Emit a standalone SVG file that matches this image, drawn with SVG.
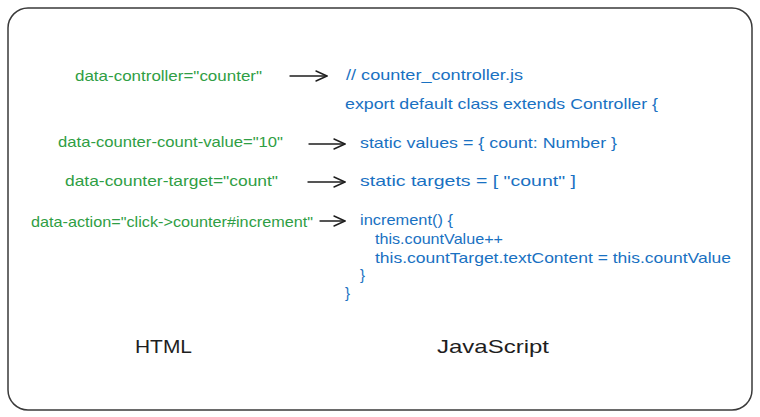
<svg xmlns="http://www.w3.org/2000/svg" width="760" height="417" viewBox="0 0 760 417">
<style>
.g{font-family:"Liberation Sans","DejaVu Sans",sans-serif;font-size:15px;fill:#2f9e44}
.b{font-family:"Liberation Sans","DejaVu Sans",sans-serif;font-size:15px;fill:#1971c2}
.k{font-family:"Liberation Sans","DejaVu Sans",sans-serif;font-size:19px;fill:#1e1e1e}
.c{stroke:#1e1e1e;stroke-width:1.4;fill:none;stroke-linecap:round}
</style>
<defs>
<marker id="ah" markerWidth="14" markerHeight="14" refX="12" refY="7" orient="auto" markerUnits="userSpaceOnUse">
<path d="M1,2 L12,7 L1,12" fill="none" stroke="#1e1e1e" stroke-width="1.4" stroke-linecap="round" stroke-linejoin="round"/>
</marker>
</defs>
<rect width="760" height="417" fill="#ffffff"/>
<rect id="frame" x="8" y="8" width="744" height="402" rx="20" fill="#ffffff" stroke="#3a3a3a" stroke-width="1.5"/>
<g id="html-labels">
<g id="html-controller"><text class="g" x="75" y="81" textLength="187" lengthAdjust="spacingAndGlyphs">data-controller="counter"</text></g>
<g id="html-value"><text class="g" x="58" y="147" textLength="225" lengthAdjust="spacingAndGlyphs">data-counter-count-value="10"</text></g>
<g id="html-target"><text class="g" x="65" y="186" textLength="213" lengthAdjust="spacingAndGlyphs">data-counter-target="count"</text></g>
<g id="html-action"><text class="g" x="31" y="227" textLength="282" lengthAdjust="spacingAndGlyphs">data-action="click-&gt;counter#increment"</text></g>
</g>
<g id="js-code">
<g id="js-comment"><text class="b" x="346" y="80" textLength="177" lengthAdjust="spacingAndGlyphs">// counter_controller.js</text></g>
<g id="js-class"><text class="b" x="345" y="109" textLength="313" lengthAdjust="spacingAndGlyphs">export default class extends Controller {</text></g>
<g id="js-values"><text class="b" x="360" y="148" textLength="257" lengthAdjust="spacingAndGlyphs">static values = { count: Number }</text></g>
<g id="js-targets"><text class="b" x="360" y="186" textLength="216" lengthAdjust="spacingAndGlyphs">static targets = [ "count" ]</text></g>
<g id="js-increment">
<text class="b" x="360" y="225" textLength="93" lengthAdjust="spacingAndGlyphs">increment() {</text>
<text class="b" x="375" y="244" textLength="128" lengthAdjust="spacingAndGlyphs">this.countValue++</text>
<text class="b" x="375" y="263" textLength="356" lengthAdjust="spacingAndGlyphs">this.countTarget.textContent = this.countValue</text>
<text class="b" x="360" y="280">}</text>
</g>
<g id="js-close"><text class="b" x="345" y="298">}</text></g>
</g>
<g id="captions">
<g id="cap-html"><text class="k" x="135" y="353" textLength="57" lengthAdjust="spacingAndGlyphs">HTML</text></g>
<g id="cap-js"><text class="k" x="437" y="353" textLength="112" lengthAdjust="spacingAndGlyphs">JavaScript</text></g>
</g>
<g id="connectors">
<line class="c" x1="290" y1="76" x2="327" y2="76" marker-end="url(#ah)"/>
<line class="c" x1="309" y1="144" x2="345" y2="144" marker-end="url(#ah)"/>
<line class="c" x1="308" y1="182" x2="345" y2="182" marker-end="url(#ah)"/>
<line class="c" x1="320" y1="221" x2="345" y2="221" marker-end="url(#ah)"/>
</g>
</svg>
